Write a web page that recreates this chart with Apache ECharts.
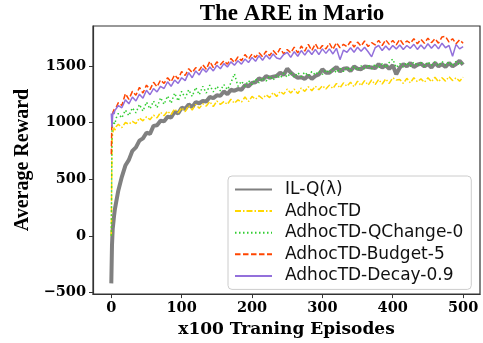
<!DOCTYPE html>
<html>
<head>
<meta charset="utf-8">
<script src="https://cdn.jsdelivr.net/npm/echarts@6/dist/echarts.min.js"></script>
<style>
  html, body { margin: 0; padding: 0; background: #fff; }
  #chart { width: 483px; height: 343px; }
</style>
</head>
<body>
<div id="chart"></div>
<script>
var episodes = [0, 1, 2, 3, 4, 5, 7,
    10, 15, 20, 25, 30, 35, 40, 45, 50, 55,
    60, 65, 70, 75, 80, 85, 90, 95, 100, 105,
    110, 115, 120, 125, 130, 135, 140, 145, 150, 155,
    160, 165, 170, 175, 180, 185, 190, 195, 200, 205,
    210, 215, 220, 225, 230, 235, 240, 245, 250, 255,
    260, 265, 270, 275, 280, 285, 290, 295, 300, 305,
    310, 315, 320, 325, 330, 335, 340, 345, 350, 355,
    360, 365, 370, 375, 380, 385, 390, 395, 400, 405,
    410, 415, 420, 425, 430, 435, 440, 445, 450, 455,
    460, 465, 470, 475, 480, 485, 490, 495, 500];

var ilq = [-420, -80, 60, 120, 180, 230, 300,
    400, 520, 620, 670, 750, 780, 840, 860, 910, 900,
    970, 975, 1015, 1010, 1050, 1045, 1095, 1080, 1130, 1120,
    1160, 1135, 1180, 1170, 1190, 1185, 1225, 1215, 1240, 1235,
    1275, 1250, 1290, 1280, 1295, 1290, 1330, 1320, 1350, 1355,
    1390, 1375, 1410, 1395, 1405, 1410, 1440, 1420, 1475, 1440,
    1415, 1395, 1400, 1385, 1415, 1385, 1410, 1425, 1470, 1440,
    1440, 1465, 1490, 1450, 1475, 1480, 1455, 1495, 1475, 1470,
    1495, 1490, 1485, 1480, 1515, 1485, 1505, 1475, 1505, 1425,
    1485, 1515, 1495, 1525, 1490, 1510, 1520, 1495, 1515, 1485,
    1525, 1495, 1515, 1490, 1525, 1495, 1515, 1545, 1510];

var adhocTD = [0, 850, 900, 930, 955, 930, 965,
    985, 955, 1000, 985, 1010, 990, 1040, 1015, 1050, 1025,
    1065, 1040, 1090, 1060, 1100, 1070, 1120, 1085, 1130, 1095,
    1150, 1110, 1160, 1125, 1165, 1145, 1185, 1140, 1190, 1160,
    1185, 1160, 1205, 1170, 1200, 1180, 1225, 1185, 1230, 1205,
    1235, 1210, 1245, 1220, 1265, 1230, 1275, 1250, 1295, 1260,
    1295, 1255, 1305, 1275, 1315, 1280, 1320, 1290, 1325, 1295,
    1330, 1300, 1345, 1305, 1350, 1320, 1355, 1315, 1365, 1325,
    1370, 1330, 1375, 1335, 1380, 1340, 1385, 1345, 1395, 1375,
    1380, 1345, 1390, 1350, 1395, 1360, 1385, 1355, 1395, 1360,
    1400, 1360, 1395, 1365, 1405, 1370, 1395, 1365, 1400];

var qChange = [0, 930, 990, 1010, 1020, 985, 1040,
    1080, 1040, 1110, 1060, 1130, 1085, 1160, 1100, 1180, 1120,
    1190, 1130, 1220, 1160, 1235, 1170, 1260, 1190, 1275, 1215,
    1290, 1230, 1310, 1245, 1320, 1260, 1330, 1270, 1320, 1280,
    1335, 1290, 1350, 1430, 1320, 1365, 1320, 1370, 1335, 1385,
    1350, 1395, 1365, 1410, 1375, 1420, 1390, 1435, 1400, 1440,
    1400, 1440, 1405, 1445, 1410, 1450, 1420, 1455, 1425, 1465,
    1435, 1475, 1440, 1480, 1450, 1490, 1455, 1495, 1460, 1500,
    1470, 1510, 1475, 1515, 1480, 1520, 1485, 1530, 1560, 1485,
    1520, 1490, 1530, 1495, 1535, 1500, 1530, 1495, 1535, 1505,
    1535, 1500, 1540, 1505, 1535, 1500, 1540, 1510, 1535];

var budget = [720, 1050, 1085, 1100, 1115, 1110, 1135,
    1175, 1150, 1255, 1205, 1275, 1240, 1310, 1260, 1330, 1290,
    1355, 1315, 1375, 1345, 1395, 1360, 1420, 1385, 1450, 1415,
    1475, 1440, 1485, 1460, 1510, 1470, 1540, 1485, 1535, 1510,
    1545, 1515, 1565, 1530, 1580, 1545, 1600, 1560, 1605, 1575,
    1615, 1580, 1630, 1590, 1635, 1600, 1655, 1605, 1645, 1615,
    1665, 1615, 1675, 1630, 1690, 1635, 1695, 1640, 1680, 1650,
    1700, 1645, 1705, 1660, 1690, 1670, 1715, 1665, 1710, 1675,
    1720, 1670, 1705, 1685, 1725, 1680, 1730, 1690, 1725, 1685,
    1735, 1690, 1720, 1700, 1740, 1695, 1735, 1700, 1745, 1705,
    1740, 1700, 1755, 1760, 1710, 1740, 1695, 1730, 1700];

var decay = [1080, 960, 1065, 1095, 1075, 1105, 1120,
    1150, 1130, 1200, 1165, 1225, 1190, 1250, 1215, 1285, 1245,
    1300, 1270, 1320, 1300, 1360, 1320, 1375, 1345, 1395, 1370,
    1440, 1395, 1455, 1420, 1475, 1445, 1490, 1455, 1505, 1475,
    1520, 1490, 1535, 1505, 1545, 1515, 1560, 1530, 1575, 1540,
    1590, 1550, 1595, 1560, 1605, 1570, 1560, 1600, 1620, 1575,
    1625, 1585, 1635, 1595, 1640, 1600, 1645, 1600, 1650, 1610,
    1650, 1605, 1655, 1555, 1640, 1620, 1660, 1620, 1665, 1630,
    1665, 1625, 1580, 1660, 1680, 1635, 1675, 1640, 1680, 1650,
    1685, 1645, 1680, 1655, 1690, 1645, 1685, 1650, 1695, 1655,
    1690, 1650, 1700, 1660, 1680, 1585, 1690, 1650, 1670];

var xTicks = [0, 100, 200, 300, 400, 500];
var yTicks = [-500, 0, 500, 1000, 1500];

function pairs(ys) {
    return episodes.map(function (x, i) { return [x, ys[i]]; });
}

var serif = 'Liberation Serif';
var wideSerif = 'DejaVu Serif';

var option = {
    animation: false,
    title: {
        text: 'The ARE in Mario',
        left: 287, top: -2, textAlign: 'center',
        textStyle: { fontFamily: serif, fontWeight: 'bold', fontSize: 23, color: '#000' }
    },
    grid: { left: 93, right: 3, top: 26, bottom: 48, show: true, borderColor: '#333', borderWidth: 1.2 },
    legend: {
        orient: 'vertical',
        left: 228, top: 176,
        padding: [5, 8, 5, 6],
        itemWidth: 37, itemHeight: 14, itemGap: 4.6,
        itemStyle: { opacity: 0 },
        backgroundColor: 'rgba(255,255,255,0.8)',
        borderColor: '#cccccc', borderWidth: 1, borderRadius: 4,
        textStyle: { fontFamily: 'DejaVu Sans', fontSize: 17, lineHeight: 14, color: '#111', padding: [0, 0, 0, 8] }
    },
    xAxis: {
        type: 'value', min: -26, max: 524,
        name: 'x100 Traning Episodes', nameLocation: 'middle', nameGap: 24,
        nameTextStyle: { fontFamily: wideSerif, fontWeight: 'bold', fontSize: 17, color: '#000' },
        axisLine: { onZero: false, lineStyle: { color: '#333', width: 1.2 } },
        axisTick: { show: true, length: 4, customValues: xTicks, lineStyle: { color: '#333' } },
        axisLabel: { customValues: xTicks, margin: 7, fontFamily: wideSerif, fontWeight: 'bold', fontSize: 14.5, color: '#000' },
        splitLine: { show: false }
    },
    yAxis: {
        type: 'value', min: -515, max: 1852,
        name: 'Average Reward', nameLocation: 'middle', nameGap: 55,
        nameTextStyle: { fontFamily: serif, fontWeight: 'bold', fontSize: 20, color: '#000' },
        axisLine: { show: true, onZero: false, lineStyle: { color: '#333', width: 1.2 } },
        axisTick: { show: true, length: 4, customValues: yTicks, lineStyle: { color: '#333' } },
        axisLabel: {
            customValues: yTicks, margin: 7, fontFamily: wideSerif, fontWeight: 'bold', fontSize: 14.5, color: '#000',
            formatter: function (v) { return String(v).replace('-', '\u2212'); }
        },
        splitLine: { show: false }
    },
    series: [
        { name: 'IL-Q(\u03bb)', type: 'line', symbol: 'none', data: pairs(ilq),
          lineStyle: { color: '#808080', width: 4 }, itemStyle: { color: '#808080' } },
        { name: 'AdhocTD', type: 'line', symbol: 'none', data: pairs(adhocTD),
          lineStyle: { color: '#ffd700', width: 1.5, type: [6, 2, 1.5, 2] }, itemStyle: { color: '#ffd700' } },
        { name: 'AdhocTD-QChange-0', type: 'line', symbol: 'none', data: pairs(qChange),
          lineStyle: { color: '#32cd32', width: 1.5, type: [1.5, 2.5] }, itemStyle: { color: '#32cd32' } },
        { name: 'AdhocTD-Budget-5', type: 'line', symbol: 'none', data: pairs(budget),
          lineStyle: { color: '#ff4500', width: 1.5, type: [5.5, 2.5] }, itemStyle: { color: '#ff4500' } },
        { name: 'AdhocTD-Decay-0.9', type: 'line', symbol: 'none', data: pairs(decay),
          lineStyle: { color: '#9370db', width: 1.5 }, itemStyle: { color: '#9370db' } }
    ]
};

var myChart = echarts.init(document.getElementById('chart'));
myChart.setOption(option);
</script>
</body>
</html>
